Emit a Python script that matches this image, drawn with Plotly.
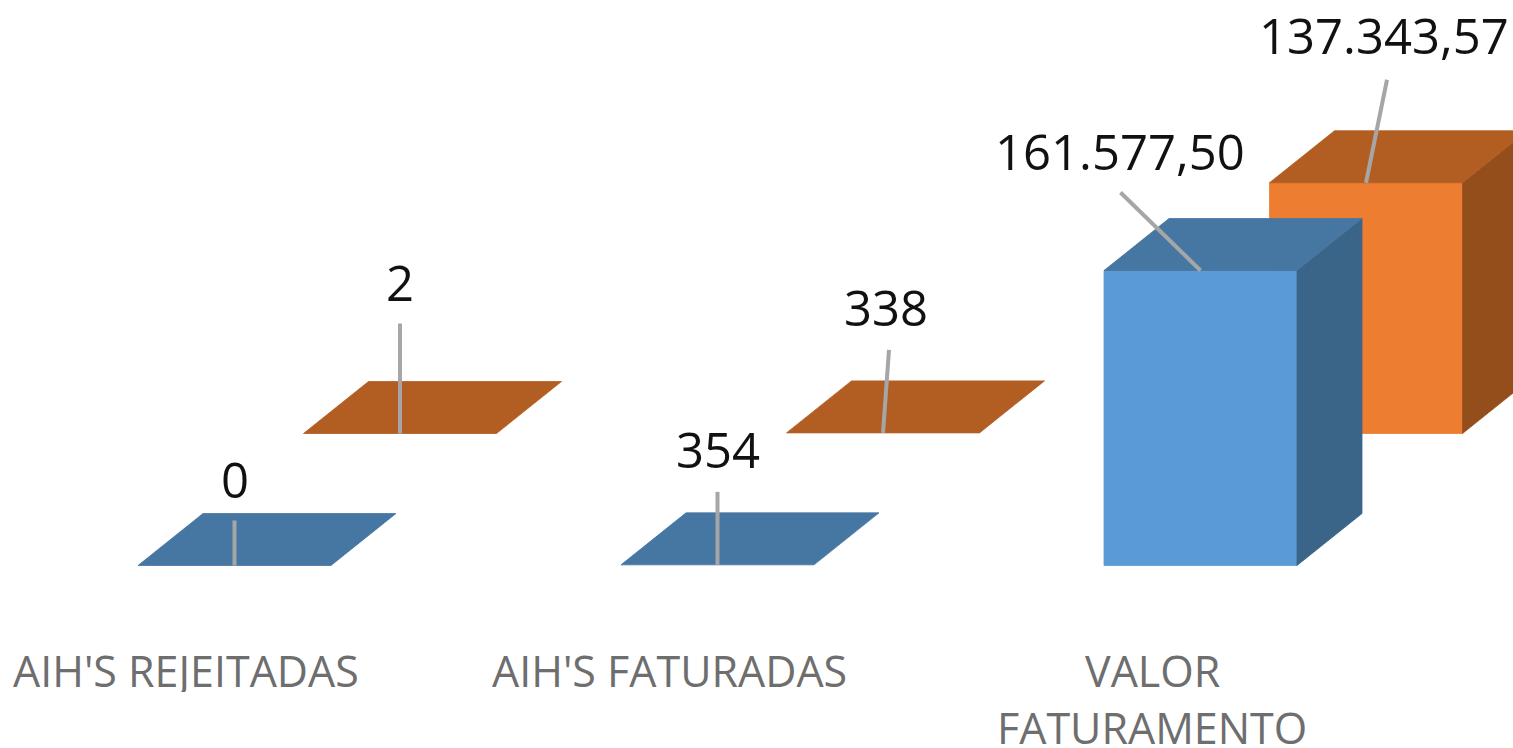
import plotly.graph_objects as go

# ---- data ----
category_lines = [["AIH'S REJEITADAS"], ["AIH'S FATURADAS"], ["VALOR", "FATURAMENTO"]]
series_a = [0, 354, 161577.50]
series_b = [2, 338, 137343.57]
labels_a = ["0", "354", "161.577,50"]
labels_b = ["2", "338", "137.343,57"]

# ---- scales: pixels per axis unit ----
W, H = 1513, 748
PX_PER_CAT = 483.0
PX_PER_VAL = 295.0 / 161577.50
ORIGIN_X, ORIGIN_Y = 234.5, 565.5   # pixel of category 0 / value 0 (blue series)

BAR_W = 193 / PX_PER_CAT
DEPTH_X = 65 / PX_PER_CAT
DEPTH_Y = 52 / PX_PER_VAL
SERIES_DX = 165.5 / PX_PER_CAT
SERIES_DY = 132 / PX_PER_VAL

def dx(px): return px / PX_PER_CAT
def dy(px): return px / PX_PER_VAL   # positive = up

fig = go.Figure()

def face(xs, ys, color):
    fig.add_trace(go.Scatter(x=xs, y=ys, mode="lines", fill="toself", fillcolor=color,
                             line=dict(width=0.8, color=color), hoverinfo="skip", showlegend=False))

def leader(x0, y0, x1, y1):
    fig.add_trace(go.Scatter(x=[x0, x1], y=[y0, y1], mode="lines",
                             line=dict(width=4, color="#A6A6A6"), hoverinfo="skip", showlegend=False))

def bar(i, value, offset, front, top, side):
    cx = i + offset * SERIES_DX
    base = offset * SERIES_DY
    l, r = cx - BAR_W / 2, cx + BAR_W / 2
    t = base + value
    if value > 1000:
        face([l, r, r, l, l], [base, base, t, t, base], front)
        face([r, r + DEPTH_X, r + DEPTH_X, r, r],
             [base, base + DEPTH_Y, t + DEPTH_Y, t, base], side)
    face([l, r, r + DEPTH_X, l + DEPTH_X, l], [t, t, t + DEPTH_Y, t + DEPTH_Y, t], top)

BLUE = ("#5B9BD5", "#4676A2", "#3A6488")
ORANGE = ("#ED7D31", "#B25D22", "#934E1C")

for i in range(3):
    bar(i, series_b[i], 1, *ORANGE)
    bar(i, series_a[i], 0, *BLUE)

# leader-line ends and label centres, pixels from the front-top centre of each bar
leader_a = [(0, 45), (0, 73), (-80, 78)]
leader_b = [(0, 110), (6, 83), (21, 103)]
text_a = [(0, 87), (0, 116), (-81, 120)]
text_b = [(0, 152), (3, 126), (18, 148)]

annotations = []
VALUE_FONT = dict(family="Open Sans", size=49, color="#111111")
for offset, vals, labs, lead, txt in [(1, series_b, labels_b, leader_b, text_b),
                                      (0, series_a, labels_a, leader_a, text_a)]:
    for i in range(3):
        ax = i + offset * SERIES_DX
        ay = offset * SERIES_DY + vals[i]
        leader(ax, ay, ax + dx(lead[i][0]), ay + dy(lead[i][1]))
        annotations.append(dict(x=ax + dx(txt[i][0]), y=ay + dy(txt[i][1]), xref="x", yref="y",
                                text=labs[i], showarrow=False, font=VALUE_FONT,
                                xanchor="center", yanchor="middle"))

CAT_FONT = dict(family="Open Sans", size=43, color="#6E6E6E")
for i, lines in enumerate(category_lines):
    for j, line in enumerate(lines):
        annotations.append(dict(x=i + dx(-48.5), y=dy(-104 - 57 * j), xref="x", yref="y",
                                text=line, showarrow=False, font=CAT_FONT, height=44,
                                xanchor="center", yanchor="middle"))

fig.update_layout(
    width=W, height=H, margin=dict(l=0, r=0, t=0, b=0),
    paper_bgcolor="white", plot_bgcolor="white", showlegend=False,
    annotations=annotations,
    xaxis=dict(range=[-ORIGIN_X / PX_PER_CAT, (W - ORIGIN_X) / PX_PER_CAT], visible=False, fixedrange=True),
    yaxis=dict(range=[-(H - ORIGIN_Y) / PX_PER_VAL, ORIGIN_Y / PX_PER_VAL], visible=False, fixedrange=True),
)
fig.write_html("out.html", config=dict(displayModeBar=False),
               post_script="document.body.style.margin='0';document.body.style.overflow='hidden';")
